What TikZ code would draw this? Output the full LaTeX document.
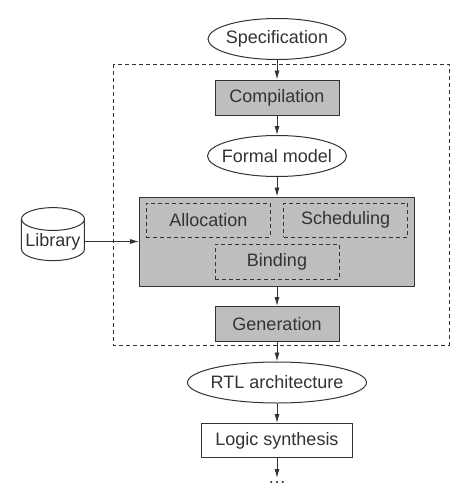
\documentclass[tikz,border=0pt]{standalone}
\usepackage{fontspec}
\setmainfont{Liberation Sans}
\usepackage{tikz}
\usetikzlibrary{shapes.geometric,positioning}
\usetikzlibrary{arrows.meta}
\definecolor{ink}{HTML}{333333}
\definecolor{boxgray}{HTML}{BEBEBE}

\begin{document}
\begin{tikzpicture}[x=1pt, y=1pt, node distance=19.5pt,
    font=\fontsize{18}{20}\selectfont, text=ink,
    data/.style={ellipse, draw=ink, line width=1pt, inner xsep=-8pt, inner ysep=4pt, minimum height=41pt},
    proc/.style={rectangle, draw=ink, fill=boxgray, line width=1pt, minimum width=124pt, minimum height=35pt, inner sep=2pt},
    task/.style={rectangle, draw=ink, line width=0.9pt, dash pattern=on 4pt off 3pt, minimum width=124pt, minimum height=34pt, inner sep=2pt},
    lib/.style={cylinder, shape border rotate=90, aspect=0.4, draw=ink, line width=1pt, inner sep=1pt, minimum width=63pt, minimum height=53pt},
    flow/.style={draw=ink, line width=0.9pt, -{Latex[length=9pt,width=5pt]}}]
    \useasboundingbox (0,0) rectangle (474,-504);

    % synthesis region
    \draw[ink, line width=0.9pt, dash pattern=on 4pt off 3pt] (113,-64) rectangle (449,-345);

    \node[data, minimum width=138pt] (spec) at (277,-39) {Specification};
    \node[proc, below=of spec] (compile) {Compilation};
    \node[data, minimum width=139pt, below=of compile] (formal) {Formal model};
    \node[proc, minimum width=275pt, minimum height=89pt, below=of formal] (core) {};
    \node[task, anchor=north west] (alloc) at ([xshift=7pt,yshift=-6pt]core.north west) {Allocation};
    \node[task, anchor=north east] (sched) at ([xshift=-7pt,yshift=-6pt]core.north east) {Scheduling};
    \node[task, minimum height=35pt, anchor=south] (bind) at ([yshift=7pt]core.south) {Binding};
    \node[proc, below=of core] (gen) {Generation};
    \node[data, minimum width=179pt, below=of gen] (rtl) {RTL architecture};
    \node[proc, fill=white, minimum width=151pt, minimum height=34pt, below=of rtl] (logic) {Logic synthesis};
    \node[inner sep=3pt, below=20pt of logic] (dots) {\dots};
    \node[lib, left=54pt of core] (library) {Library};

    \draw[flow] (spec) -- (compile);
    \draw[flow] (compile) -- (formal);
    \draw[flow] (formal) -- (core);
    \draw[flow] (core) -- (gen);
    \draw[flow] (gen) -- (rtl);
    \draw[flow] (rtl) -- (logic);
    \draw[flow] (logic) -- (dots);
    \draw[flow] (library) -- (core);
\end{tikzpicture}
\end{document}
